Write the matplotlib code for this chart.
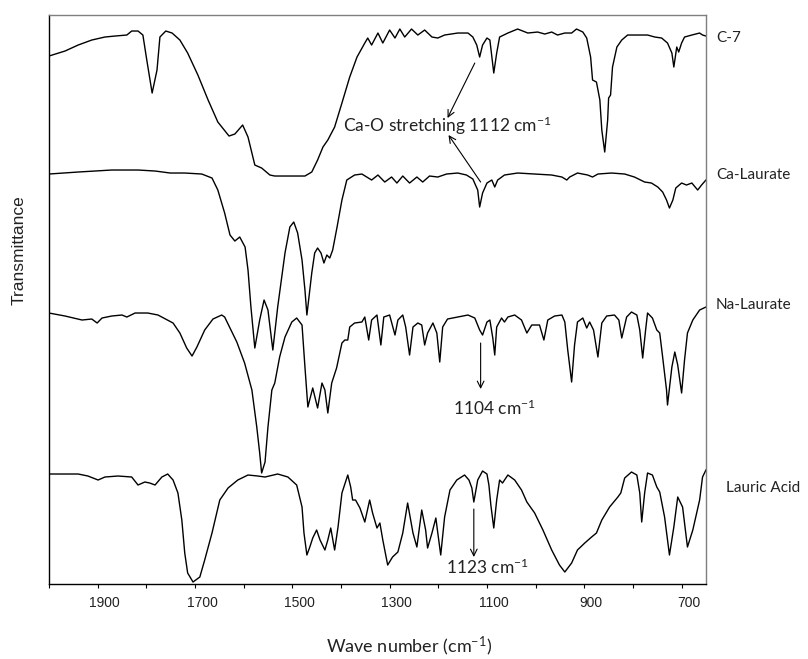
import matplotlib
matplotlib.use("Agg")
import matplotlib.pyplot as plt
from matplotlib.ticker import FixedLocator, FuncFormatter
from matplotlib.transforms import ScaledTranslation

plt.rcParams['mathtext.fontset'] = 'custom'
plt.rcParams['mathtext.rm'] = 'Lato'
plt.rcParams['mathtext.default'] = 'regular'

# spectra: wavenumber (cm-1) and offset transmittance (a.u.)
c7_wn = [2000, 1967, 1940, 1912, 1885, 1864, 1840, 1830, 1817, 1807, 1799, 1788, 1778, 1772,
         1760, 1747, 1731, 1715, 1694, 1673, 1653, 1630, 1618, 1602, 1591, 1577, 1563, 1546,
         1536, 1474, 1460, 1448, 1437, 1427, 1413, 1398, 1382, 1367, 1351, 1345, 1337, 1324,
         1314, 1300, 1289, 1279, 1269, 1255, 1242, 1228, 1213, 1201, 1187, 1160, 1139, 1129,
         1121, 1115, 1109, 1100, 1094, 1086, 1080, 1074, 1057, 1037, 1016, 996, 981, 967, 955,
         940, 926, 916, 903, 895, 887, 883, 875, 868, 864, 858, 852, 850, 846, 842, 833, 823,
         811, 790, 770, 755, 741, 729, 720, 716, 710, 706, 700, 694, 679, 663, 657, 650]
c7_t = [528, 533, 539, 544, 547, 548, 549, 553, 553, 549, 524, 491, 514, 547,
        553, 551, 544, 531, 509, 484, 462, 448, 450, 459, 447, 419, 416, 409,
        408, 408, 412, 424, 437, 444, 457, 481, 507, 527, 541, 546, 539, 551,
        541, 554, 546, 555, 547, 555, 549, 554, 547, 546, 549, 551, 551, 547,
        539, 527, 539, 546, 544, 511, 531, 547, 551, 555, 551, 552, 550, 552, 549,
        551, 551, 555, 552, 546, 527, 504, 502, 484, 454, 432, 464, 486, 489, 517, 537, 544,
        549, 549, 549, 547, 546, 541, 531, 517, 537, 532, 541, 547, 549, 551, 549, 548]

ca_wn = [2000, 1940, 1871, 1817, 1782, 1751, 1721, 1686, 1665, 1653, 1639, 1628, 1618, 1608,
         1597, 1591, 1585, 1577, 1567, 1558, 1550, 1540, 1530, 1515, 1505, 1497, 1489, 1480,
         1474, 1470, 1460, 1454, 1448, 1441, 1435, 1429, 1423, 1417, 1408, 1398, 1388, 1372,
         1357, 1337, 1324, 1310, 1296, 1285, 1273, 1259, 1244, 1232, 1218, 1201, 1183, 1160,
         1142, 1129, 1119, 1115, 1109, 1100, 1090, 1084, 1078, 1064, 1037, 1002, 967, 946, 936,
         930, 914, 893, 883, 872, 844, 817, 797, 776, 762, 749, 739, 731, 725, 718, 712, 700,
         690, 679, 667, 659, 650]
ca_t = [410, 412, 414, 414, 413, 411, 411, 410, 406, 394, 371, 349, 343, 347,
        337, 314, 277, 236, 264, 284, 274, 234, 277, 331, 357, 362, 351, 324,
        294, 269, 311, 331, 336, 331, 321, 329, 326, 334, 357, 384, 404, 409,
        410, 404, 409, 402, 407, 401, 408, 401, 407, 402, 408, 407, 410, 411,
        409, 405, 394, 377, 391, 401, 404, 397, 404, 409, 411, 410, 409, 407, 404,
        407, 411, 409, 407, 410, 411, 410, 407, 402, 401, 397, 392, 384, 376, 384, 396, 401,
        399, 401, 394, 399, 404]

na_wn = [2000, 1967, 1932, 1912, 1901, 1891, 1871, 1850, 1840, 1823, 1797, 1776, 1745, 1731,
         1717, 1706, 1696, 1680, 1663, 1645, 1639, 1624, 1614, 1598, 1583, 1573, 1567, 1563,
         1556, 1550, 1542, 1536, 1526, 1515, 1501, 1491, 1480, 1474, 1468, 1458, 1448, 1439,
         1433, 1427, 1419, 1409, 1398, 1392, 1386, 1382, 1372, 1357, 1351, 1343, 1337, 1326,
         1318, 1312, 1300, 1289, 1283, 1273, 1267, 1259, 1252, 1242, 1234, 1228, 1222, 1211,
         1203, 1197, 1191, 1181, 1160, 1139, 1125, 1115, 1109, 1100, 1094, 1088, 1084, 1080,
         1070, 1064, 1057, 1043, 1029, 1018, 1008, 992, 983, 975, 961, 946, 940, 934, 926, 920,
         914, 903, 895, 889, 881, 872, 864, 854, 838, 829, 823, 813, 803, 792, 786, 780, 774,
         770, 760, 751, 745, 739, 731, 729, 720, 714, 708, 700, 694, 688, 677, 663, 650]
na_t = [271, 268, 264, 265, 261, 266, 268, 269, 267, 271, 271, 269, 261, 251,
        236, 228, 237, 254, 265, 269, 267, 252, 242, 221, 194, 157, 131, 111,
        122, 157, 194, 201, 227, 247, 262, 266, 259, 217, 177, 196, 176, 201,
        194, 171, 201, 216, 241, 244, 244, 257, 261, 262, 267, 244, 264, 269,
        239, 267, 269, 249, 264, 269, 257, 229, 257, 261, 259, 239, 251, 261,
        251, 222, 257, 265, 267, 269, 266, 254, 249, 262, 264, 246, 229, 257,
        266, 262, 267, 269, 264, 251, 259, 259, 244, 264, 268, 269, 262, 234, 202, 239,
        262, 266, 256, 262, 254, 227, 261, 268, 269, 264, 246, 267, 272, 269, 254, 226, 254,
        271, 266, 254, 251, 227, 194, 179, 217, 232, 219, 191, 224, 251, 264, 274, 277]

la_wn = [2000, 1940, 1920, 1899, 1885, 1858, 1830, 1817, 1803, 1793, 1782, 1768, 1756, 1745,
         1735, 1727, 1721, 1715, 1704, 1690, 1680, 1665, 1649, 1632, 1612, 1591, 1571, 1556,
         1530, 1509, 1491, 1480, 1476, 1470, 1464, 1458, 1450, 1443, 1433, 1427, 1421, 1413,
         1406, 1398, 1386, 1380, 1376, 1370, 1361, 1351, 1341, 1335, 1326, 1320, 1314, 1304,
         1294, 1283, 1273, 1263, 1252, 1244, 1234, 1226, 1222, 1213, 1205, 1201, 1195, 1187,
         1176, 1162, 1146, 1137, 1131, 1127, 1119, 1109, 1100, 1096, 1092, 1086, 1080, 1074,
         1068, 1057, 1043, 1029, 1018, 1002, 985, 967, 951, 940, 926, 914, 899, 885, 875, 864,
         848, 831, 825, 817, 803, 792, 786, 782, 776, 770, 760, 751, 745, 735, 725, 716, 708,
         698, 688, 677, 663, 657, 650]
la_t = [110, 110, 108, 104, 107, 108, 107, 99, 102, 101, 99, 107, 110, 104,
        91, 64, 31, 11, 2, 7, 24, 51, 84, 96, 104, 109, 108, 107,
        110, 107, 99, 77, 51, 29, 37, 46, 54, 44, 34, 44, 56, 34,
        57, 91, 109, 97, 84, 84, 76, 62, 84, 71, 56, 61, 44, 19,
        27, 32, 51, 81, 51, 37, 74, 54, 36, 51, 66, 51, 29, 67,
        94, 104, 109, 104, 96, 82, 104, 113, 110, 99, 79, 56, 84, 104,
        101, 109, 104, 94, 82, 71, 54, 34, 19, 12, 21, 34, 41, 47, 51, 64,
        77, 87, 91, 106, 112, 109, 91, 62, 91, 111, 109, 97, 92, 67, 29, 57, 87,
        77, 37, 54, 84, 107, 114]

series = [(c7_wn, c7_t), (ca_wn, ca_t), (na_wn, na_t), (la_wn, la_t)]
names = ['C-7', 'Ca-Laurate', 'Na-Laurate', 'Lauric Acid']
name_pos = [(1.015, 0.960), (1.015, 0.719), (1.015, 0.490), (1.030, 0.169)]

ticks = list(range(2000, 650, -100))
tick_labels = [1900, 1700, 1500, 1300, 1100, 900, 700]

fig = plt.figure(figsize=(8.08, 6.59), dpi=100)
ax = fig.add_axes([0.0606, 0.1138, 0.8131, 0.8634])

for wn, t in series:
    ax.plot(wn, t, color='black', lw=1.0, solid_joinstyle='round')

ax.set_xlim(2000, 650)
ax.set_ylim(0, 569)
ax.set_yticks([])

ax.xaxis.set_major_locator(FixedLocator(ticks))
ax.xaxis.set_major_formatter(FuncFormatter(lambda v, p: str(int(v)) if int(v) in tick_labels else ''))
ax.tick_params(axis='x', direction='out', length=3, width=0.8, pad=5.5, labelsize=10)
for lab in ax.get_xticklabels():
    lab.set_fontfamily('Liberation Sans')
    lab.set_color('#222222')
    lab.set_transform(lab.get_transform() + ScaledTranslation(0.07, 0, fig.dpi_scale_trans))

for s in ['left', 'bottom']:
    ax.spines[s].set_color('black')
    ax.spines[s].set_linewidth(1.0)
for s in ['top', 'right']:
    ax.spines[s].set_color('#7f7f7f')
    ax.spines[s].set_linewidth(1.0)

for name, (px, py) in zip(names, name_pos):
    ax.text(px, py, name, transform=ax.transAxes, ha='left', va='center',
            fontsize=11, family='Lato', color='#222222')

# annotations
ann_font = dict(fontsize=12.5, family='Lato', color='#222222')
ax.text(1396, 458, r'Ca-O stretching 1112 cm$^{-1}$', ha='left', va='center', **ann_font)
ax.text(1170, 176, r'1104 cm$^{-1}$', ha='left', va='center', **ann_font)
ax.text(1185, 17, r'1123 cm$^{-1}$', ha='left', va='center', **ann_font)

arrows = [((1125, 521), (1181, 466)),
          ((1113, 402), (1179, 449)),
          ((1113, 241), (1113, 195)),
          ((1127, 75), (1127, 27))]
for start, end in arrows:
    ax.annotate('', xy=end, xytext=start,
                arrowprops=dict(arrowstyle='->', color='black', lw=0.8,
                                shrinkA=0, shrinkB=0, mutation_scale=12))

fig.text(19 / 808, 1 - 250 / 659, 'Transmittance', rotation=90, ha='center', va='center',
         fontsize=12.5, family='Liberation Sans', color='#222222')
fig.text(409 / 808, 1 - 646 / 659, r'Wave number (cm$^{-1}$)', ha='center', va='center',
         fontsize=13, family='Lato', color='#222222')

fig.savefig('out.png', dpi=100)
